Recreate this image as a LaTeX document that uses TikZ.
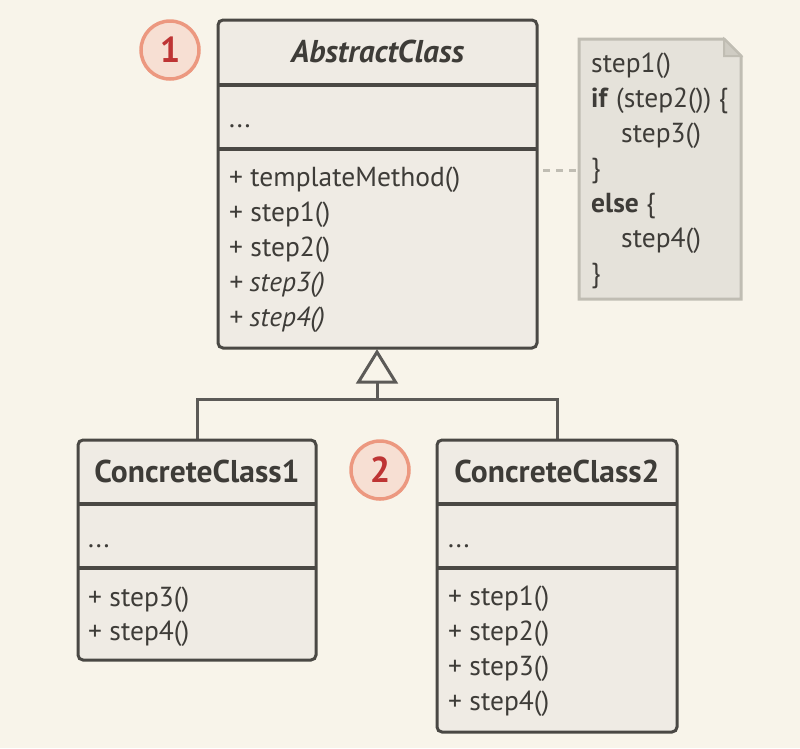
\documentclass[tikz,border=0pt]{standalone}
\usepackage{fontspec}
\setmainfont{PT Sans}
\definecolor{bg}{HTML}{F8F4EA}
\definecolor{boxfill}{HTML}{EFEBE4}
\definecolor{boxline}{HTML}{4A4844}
\definecolor{txt}{HTML}{3E3C38}
\definecolor{notefill}{HTML}{E5E2DA}
\definecolor{noteline}{HTML}{C0BDB3}
\definecolor{badgefill}{HTML}{F7DFD3}
\definecolor{badgeline}{HTML}{EC9880}
\definecolor{badgetxt}{HTML}{BE3434}
\begin{document}
\begin{tikzpicture}[x=1pt,y=-1pt,
  classbox/.style={draw=boxline,fill=boxfill,line width=3pt,rounded corners=5pt},
  sepline/.style={draw=boxline,line width=4pt},
  conn/.style={draw=boxline!90!white,line width=3pt},
  lbl/.style={anchor=base west,inner sep=0pt,text=txt,font=\fontsize{27.5}{30}\selectfont},
  ttl/.style={anchor=base,inner sep=0pt,text=txt,font=\fontsize{31.5}{34}\selectfont\bfseries},
  badge/.style={circle,draw=badgeline,fill=badgefill,line width=3.5pt,minimum size=58pt,inner sep=0pt,text=badgetxt,font=\fontsize{36}{38}\selectfont\bfseries},
  notetxt/.style={anchor=base west,inner sep=0pt,text=txt,font=\fontsize{27.5}{30}\selectfont}]
\fill[bg] (0,0) rectangle (800,748);
\useasboundingbox (0,0) rectangle (800,748);

% AbstractClass
\draw[classbox] (218,20) rectangle (537,348);
\draw[sepline] (218,85) -- (537,85);
\draw[sepline] (218,149) -- (537,149);
\node[ttl,font=\fontsize{31.5}{34}\selectfont\bfseries\itshape] (abst) at (377.5,62) {AbstractClass};
\node[lbl] (absattr) at (229,127) {...};
\node[lbl] (m0) at (229,186) {+ templateMethod()};
\node[lbl] (m1) at (229,221) {+ step1()};
\node[lbl] (m2) at (229,256) {+ step2()};
\node[lbl] (m3) at (229,291) {\itshape + step3()};
\node[lbl] (m4) at (229,326) {\itshape + step4()};

% Note
\coordinate (noteL) at (579,170);
\draw[noteline,line width=3pt,fill=notefill,line join=miter] (579,39) -- (724,39) -- (741,56) -- (741,299) -- (579,299) -- cycle;
\draw[noteline,line width=2pt,fill=noteline!60!notefill] (724,39) -- (724,56) -- (741,56) -- cycle;
\node[notetxt] (n1) at (591,72) {step1()};
\node[notetxt] (n2) at (591,107) {\textbf{if} (step2()) \{};
\node[notetxt] (n3) at (621,142) {step3()};
\node[notetxt] (n4) at (591,177) {\}};
\node[notetxt] (n5) at (591,212) {\textbf{else} \{};
\node[notetxt] (n6) at (621,247) {step4()};
\node[notetxt] (n7) at (591,282) {\}};
\draw[noteline,line width=3pt,dash pattern=on 7pt off 6pt] (543,170) -- (noteL);

% Inheritance
\coordinate (apex) at (377,352);
\coordinate (tb) at (377,382);
\coordinate (junc) at (377,399);
\coordinate (jl) at (197,399);
\coordinate (jr) at (557,399);
\coordinate (c1top) at (197,440);
\coordinate (c2top) at (557,440);
\draw[conn,line join=miter] (apex) -- (395.5,382) -- (358.5,382) -- cycle;
\draw[conn] (tb) -- (junc);
\draw[conn,line join=miter] (c1top) -- (jl) -- (jr) -- (c2top);

% ConcreteClass1
\draw[classbox] (78,440) rectangle (316,660);
\draw[sepline] (78,504) -- (316,504);
\draw[sepline] (78,568) -- (316,568);
\node[ttl] (cc1) at (197,482) {ConcreteClass1};
\node[lbl] (cc1attr) at (88,547) {...};
\node[lbl] (c1m3) at (88,606) {+ step3()};
\node[lbl] (c1m4) at (88,640) {+ step4()};

% ConcreteClass2
\draw[classbox] (437,440) rectangle (677,732);
\draw[sepline] (437,504) -- (677,504);
\draw[sepline] (437,568) -- (677,568);
\node[ttl] (cc2) at (557,482) {ConcreteClass2};
\node[lbl] (cc2attr) at (448,547) {...};
\node[lbl] (c2m1) at (448,605) {+ step1()};
\node[lbl] (c2m2) at (448,640) {+ step2()};
\node[lbl] (c2m3) at (448,675) {+ step3()};
\node[lbl] (c2m4) at (448,710) {+ step4()};

% Badges
\node[badge] (b1) at (170,50) {1};
\node[badge] (b2) at (380,470) {2};
\end{tikzpicture}
\end{document}
